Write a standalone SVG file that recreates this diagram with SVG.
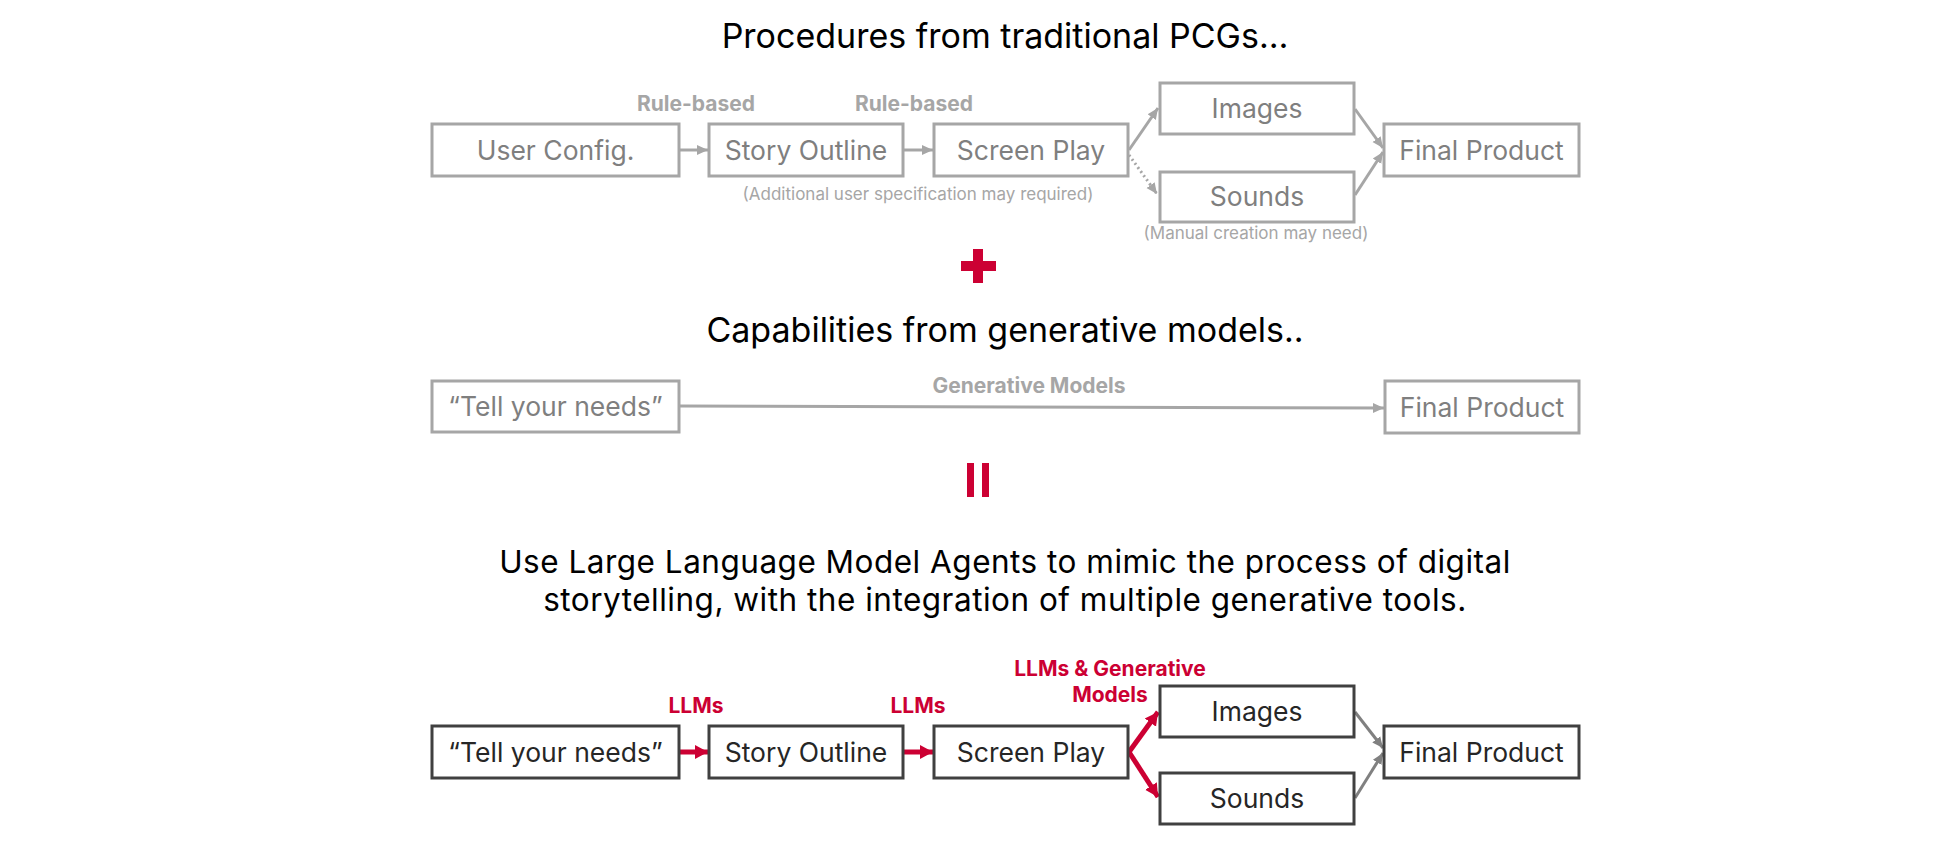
<svg xmlns="http://www.w3.org/2000/svg" width="1953" height="853" viewBox="0 0 1953 853">
<defs>
<style>
text{font-family:Inter,"Liberation Sans",sans-serif}
.title{font-size:34px;fill:#000;text-anchor:middle}
.title3{font-size:31.5px;letter-spacing:0.5px;fill:#000;text-anchor:middle}
.bx1{fill:#fff;stroke:#A6A6A6;stroke-width:3}
.bx3{fill:#fff;stroke:#404040;stroke-width:3}
.t1{font-size:26.5px;fill:#7F7F7F;text-anchor:middle}
.t3{font-size:26.5px;fill:#262626;text-anchor:middle}
.lbl{font-size:21px;font-weight:bold;fill:#A6A6A6;text-anchor:middle}
.rlbl{font-size:21px;font-weight:bold;fill:#CC0033;text-anchor:middle}
.note{font-size:17px;fill:#A6A6A6;text-anchor:middle}
.ga{stroke:#A6A6A6;stroke-width:3;fill:none;marker-end:url(#mg)}
.ga3{stroke:#808080;stroke-width:3;fill:none;marker-end:url(#md)}
.ra{stroke:#CC0033;stroke-width:5;fill:none;marker-end:url(#mr)}
</style>
<marker id="mg" markerUnits="userSpaceOnUse" markerWidth="12" markerHeight="12" refX="11" refY="6" orient="auto"><path d="M0,1 L11,6 L0,11 z" fill="#A6A6A6"/></marker>
<marker id="md" markerUnits="userSpaceOnUse" markerWidth="12" markerHeight="12" refX="11" refY="6" orient="auto"><path d="M0,1 L11,6 L0,11 z" fill="#808080"/></marker>
<marker id="mr" markerUnits="userSpaceOnUse" markerWidth="14" markerHeight="16" refX="13" refY="8" orient="auto"><path d="M0,1 L13,8 L0,15 z" fill="#CC0033"/></marker>
</defs>
<rect width="1953" height="853" fill="#fff"/>

<text class="title" x="1005" y="48">Procedures from traditional PCGs…</text>
<text class="title" x="1005" y="342">Capabilities from generative models..</text>
<text class="title3" x="1005" y="572.5">Use Large Language Model Agents to mimic the process of digital</text>
<text class="title3" x="1005" y="611">storytelling, with the integration of multiple generative tools.</text>

<g id="plus"><rect x="961" y="261" width="35" height="10" fill="#CC0033"/><rect x="973" y="249" width="10" height="34" fill="#CC0033"/></g>
<g id="equals"><rect x="967" y="463" width="7" height="34" fill="#CC0033"/><rect x="982" y="463" width="7" height="34" fill="#CC0033"/></g>

<g id="connectors">
<line class="ga" x1="680" y1="150" x2="708" y2="150"/>
<line class="ga" x1="904" y1="150" x2="933" y2="150"/>
<line class="ga" x1="1129" y1="150" x2="1158" y2="108"/>
<line x1="1129" y1="155" x2="1157" y2="194" stroke="#A6A6A6" stroke-width="3" stroke-dasharray="2 3" marker-end="url(#mg)"/>
<line class="ga" x1="1355" y1="109" x2="1383" y2="148"/>
<line class="ga" x1="1355" y1="195" x2="1383" y2="152"/>
<line class="ga" x1="680" y1="406" x2="1384" y2="408"/>
<line class="ra" x1="680" y1="752" x2="708" y2="752"/>
<line class="ra" x1="904" y1="752" x2="933" y2="752"/>
<path class="ra" d="M1129,752 L1158,712"/>
<path class="ra" d="M1129,752 L1158,797"/>
<line class="ga3" x1="1355" y1="712" x2="1383" y2="748"/>
<line class="ga3" x1="1355" y1="798" x2="1383" y2="753"/>
</g>

<text class="lbl" x="696" y="111">Rule-based</text>
<text class="lbl" x="914" y="111">Rule-based</text>
<text class="note" x="918" y="200">(Additional user specification may required)</text>
<text class="note" x="1256" y="239">(Manual creation may need)</text>
<text class="lbl" x="1029" y="393">Generative Models</text>
<text class="rlbl" x="696" y="713">LLMs</text>
<text class="rlbl" x="918" y="713">LLMs</text>
<text class="rlbl"><tspan x="1110" y="676">LLMs &amp; Generative</tspan><tspan x="1110" y="702">Models</tspan></text>

<g id="r1-config"><rect class="bx1" x="432" y="124" width="247" height="52"/><text class="t1" x="555.5" y="159.5">User Config.</text></g>
<g id="r1-outline"><rect class="bx1" x="709" y="124" width="194" height="52"/><text class="t1" x="806" y="159.5">Story Outline</text></g>
<g id="r1-screenplay"><rect class="bx1" x="934" y="124" width="194" height="52"/><text class="t1" x="1031" y="159.5">Screen Play</text></g>
<g id="r1-images"><rect class="bx1" x="1160" y="83" width="194" height="51"/><text class="t1" x="1257" y="118">Images</text></g>
<g id="r1-sounds"><rect class="bx1" x="1160" y="172" width="194" height="50"/><text class="t1" x="1257" y="206">Sounds</text></g>
<g id="r1-final"><rect class="bx1" x="1384" y="124" width="195" height="52"/><text class="t1" x="1481.5" y="159.5">Final Product</text></g>

<g id="r2-needs"><rect class="bx1" x="432" y="381" width="247" height="51"/><text class="t1" x="555.5" y="416">“Tell your needs”</text></g>
<g id="r2-final"><rect class="bx1" x="1385" y="381" width="194" height="52"/><text class="t1" x="1482" y="416.5">Final Product</text></g>

<g id="r3-needs"><rect class="bx3" x="432" y="726" width="247" height="52"/><text class="t3" x="555.5" y="761.5">“Tell your needs”</text></g>
<g id="r3-outline"><rect class="bx3" x="709" y="726" width="194" height="52"/><text class="t3" x="806" y="761.5">Story Outline</text></g>
<g id="r3-screenplay"><rect class="bx3" x="934" y="726" width="194" height="52"/><text class="t3" x="1031" y="761.5">Screen Play</text></g>
<g id="r3-images"><rect class="bx3" x="1160" y="686" width="194" height="51"/><text class="t3" x="1257" y="721">Images</text></g>
<g id="r3-sounds"><rect class="bx3" x="1160" y="773" width="194" height="51"/><text class="t3" x="1257" y="808">Sounds</text></g>
<g id="r3-final"><rect class="bx3" x="1384" y="726" width="195" height="52"/><text class="t3" x="1481.5" y="761.5">Final Product</text></g>
</svg>
